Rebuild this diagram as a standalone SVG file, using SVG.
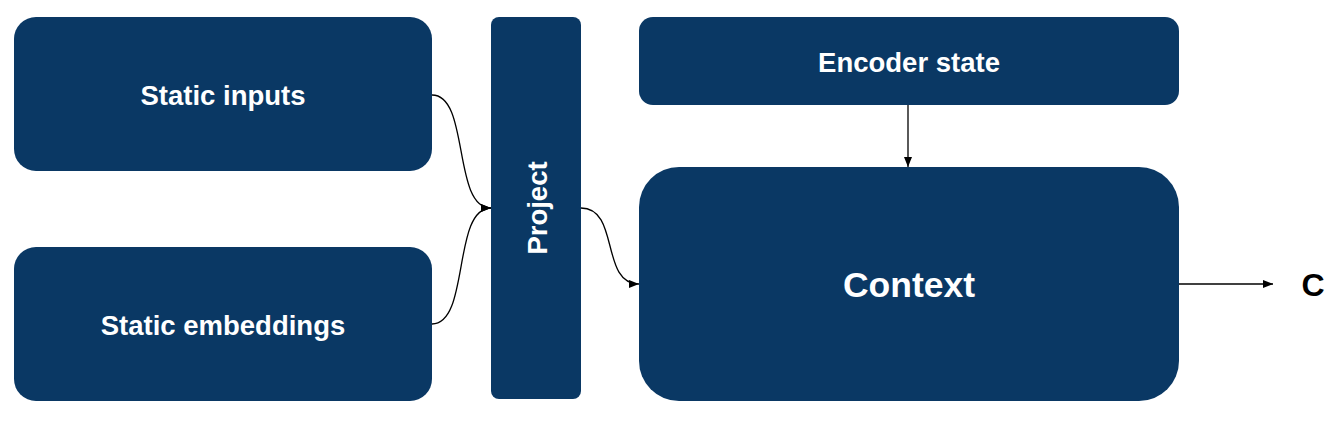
<svg xmlns="http://www.w3.org/2000/svg" width="1343" height="424" viewBox="0 0 1343 424">
<style>
.n{fill:#0a3864}
.t{fill:#fff;font-family:"Liberation Sans",Arial,sans-serif;font-weight:bold;text-anchor:middle;dominant-baseline:central}
.c{fill:none;stroke:#000;stroke-width:1.3}
</style>
<defs>
<marker id="a" viewBox="0 0 10 8" refX="10" refY="4" markerWidth="10" markerHeight="8" markerUnits="userSpaceOnUse" orient="auto">
<path d="M0,0L10,4L0,8z" fill="#000"/>
</marker>
</defs>
<rect width="1343" height="424" fill="#fff"/>
<g id="static-inputs"><rect class="n" x="14" y="17" width="418" height="154" rx="22"/><text class="t" x="223" y="95" font-size="27.5">Static inputs</text></g>
<g id="static-embeddings"><rect class="n" x="14" y="247" width="418" height="154" rx="22"/><text class="t" x="223" y="325" font-size="27.5">Static embeddings</text></g>
<g id="project"><rect class="n" x="491" y="17" width="90" height="382" rx="8"/><text class="t" transform="translate(537,208) rotate(-90)" font-size="27.5">Project</text></g>
<g id="encoder-state"><rect class="n" x="639" y="17" width="540" height="88" rx="14"/><text class="t" x="909" y="62" font-size="27.5">Encoder state</text></g>
<g id="context"><rect class="n" x="639" y="167" width="540" height="234" rx="40"/><text class="t" x="909" y="285" font-size="35.5">Context</text></g>
<g id="c-label"><text x="1313" y="285" font-family="Liberation Sans,Arial,sans-serif" font-weight="bold" font-size="32" text-anchor="middle" dominant-baseline="central">C</text></g>
<g id="connectors">
<path class="c" d="M432,95C470,95 452,208 491,208" marker-end="url(#a)"/>
<path class="c" d="M432,324C470,324 452,208 491,208" marker-end="url(#a)"/>
<path class="c" d="M581,208C620,208 600,284 639,284" marker-end="url(#a)"/>
<path class="c" d="M908,105V167" marker-end="url(#a)"/>
<path class="c" d="M1179,284H1273" marker-end="url(#a)"/>
</g>
</svg>
